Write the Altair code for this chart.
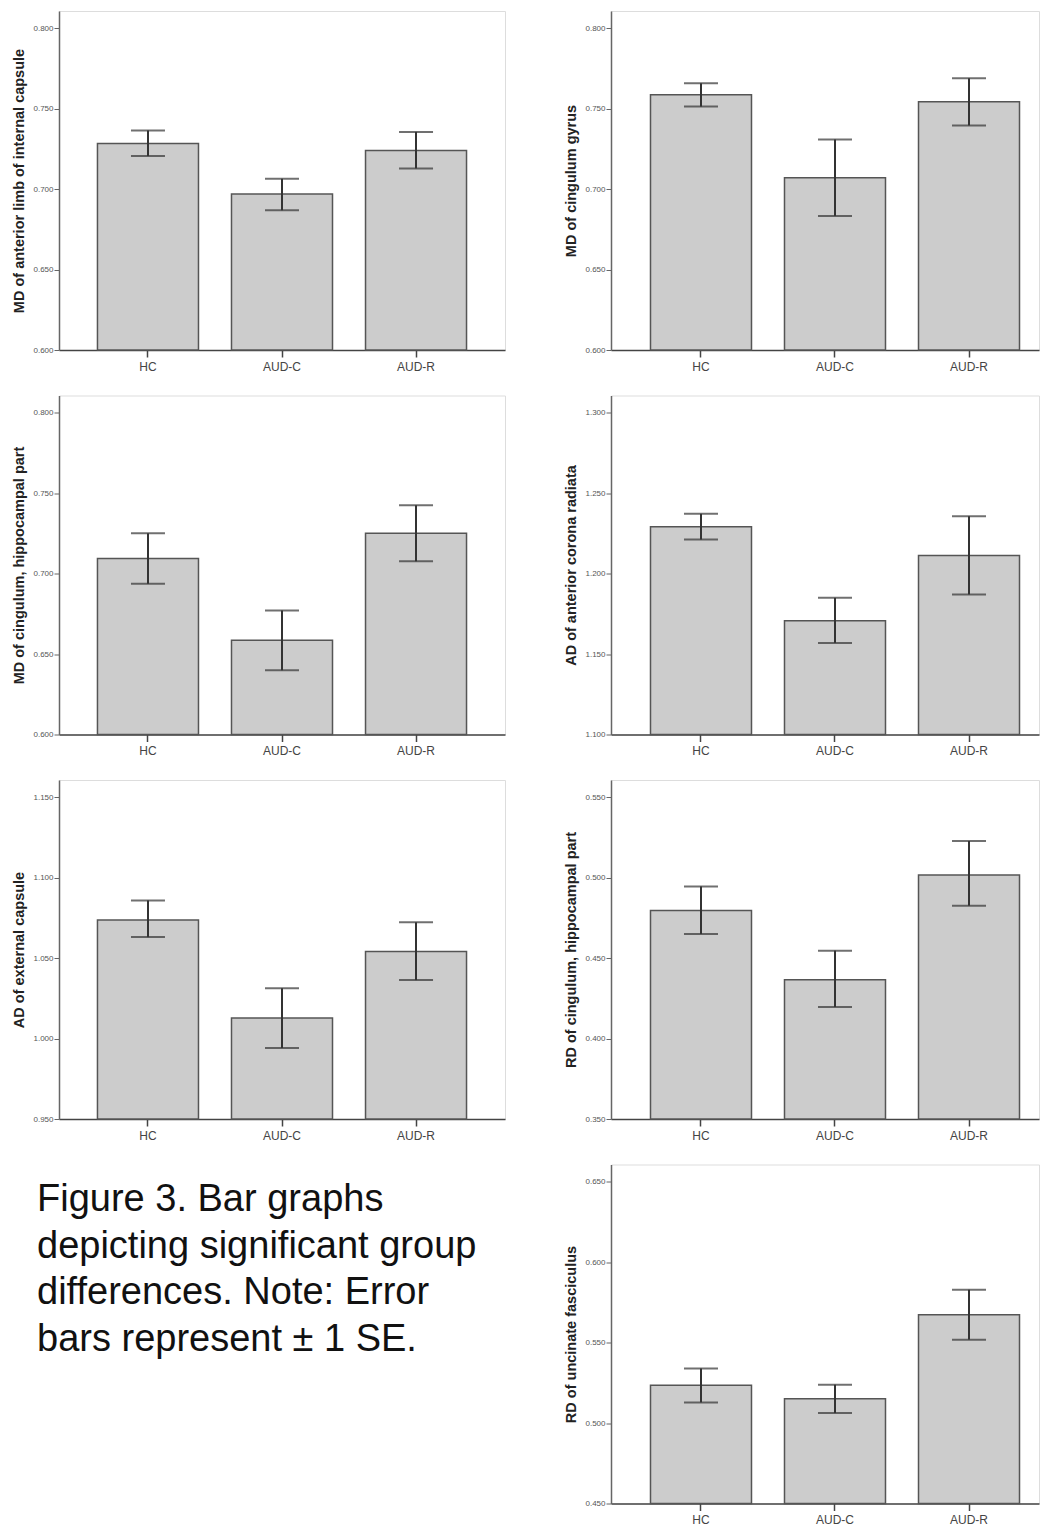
import altair as alt
import pandas as pd

groups = ["HC", "AUD-C", "AUD-R"]

titles = [
    "MD of anterior limb of internal capsule",
    "MD of cingulum gyrus",
    "MD of cingulum, hippocampal part",
    "AD of anterior corona radiata",
    "AD of external capsule",
    "RD of cingulum, hippocampal part",
    "RD of uncinate fasciculus",
]

means = [
    [0.7283, 0.6969, 0.7240],
    [0.7585, 0.7070, 0.7543],
    [0.7093, 0.6585, 0.7250],
    [1.2290, 1.1706, 1.2112],
    [1.0736, 1.0127, 1.0541],
    [0.4796, 0.4365, 0.5016],
    [0.5234, 0.5151, 0.5673],
]
lowers = [
    [0.7205, 0.6868, 0.7128],
    [0.7512, 0.6833, 0.7395],
    [0.6936, 0.6399, 0.7076],
    [1.2211, 1.1569, 1.1870],
    [1.0630, 0.9941, 1.0363],
    [0.4649, 0.4196, 0.4825],
    [0.5128, 0.5062, 0.5518],
]
uppers = [
    [0.7364, 0.7064, 0.7355],
    [0.7657, 0.7308, 0.7688],
    [0.7250, 0.6771, 0.7424],
    [1.2371, 1.1849, 1.2356],
    [1.0858, 1.0313, 1.0722],
    [0.4945, 0.4546, 0.5227],
    [0.5339, 0.5238, 0.5828],
]

axis_min = [0.60, 0.60, 0.60, 1.10, 0.95, 0.35, 0.45]
axis_max = [0.8106, 0.8106, 0.8106, 1.3106, 1.1606, 0.5606, 0.6606]
tick_values = [
    [0.600, 0.650, 0.700, 0.750, 0.800],
    [0.600, 0.650, 0.700, 0.750, 0.800],
    [0.600, 0.650, 0.700, 0.750, 0.800],
    [1.100, 1.150, 1.200, 1.250, 1.300],
    [0.950, 1.000, 1.050, 1.100, 1.150],
    [0.350, 0.400, 0.450, 0.500, 0.550],
    [0.450, 0.500, 0.550, 0.600, 0.650],
]

caption_lines = [
    "Figure 3. Bar graphs",
    "depicting significant group",
    "differences. Note: Error",
    "bars represent \u00b1 1 SE.",
]

FONT = "Liberation Sans, Arial, Helvetica, sans-serif"
H = 339
W_LEFT = 446
W_RIGHT = 428


def panel(i, width, pad_outer, align):
    lo = axis_min[i]
    df = pd.DataFrame({
        "group": groups,
        "mean": means[i],
        "lower": lowers[i],
        "upper": uppers[i],
        "base": [lo] * 3,
    })
    yscale = alt.Scale(domain=[lo, axis_max[i]], nice=False, zero=False)
    xscale = alt.Scale(domain=groups, paddingInner=0.2463,
                       paddingOuter=pad_outer, align=align)
    xaxis = alt.Axis(title=None, labelAngle=0, labelFontSize=12,
                     labelColor="#444", labelPadding=4, tickSize=7,
                     tickColor="#444", tickWidth=1.5, domainColor="#444",
                     domainWidth=1.5, grid=False, labelFont=FONT)
    yaxis = alt.Axis(title=titles[i], values=tick_values[i], format=".3f",
                     labelFontSize=8, labelColor="#555", labelPadding=1,
                     tickSize=5, tickColor="#666", tickWidth=1,
                     domainColor="#666", domainWidth=1.5, grid=False,
                     minExtent=28, maxExtent=28, titlePadding=5,
                     titleFontSize=14.5, titleFontWeight="bold",
                     titleColor="#222", titleFont=FONT, labelFont=FONT)
    base = alt.Chart(df)
    x = alt.X("group:N", sort=groups, scale=xscale, axis=xaxis)
    bars = base.mark_bar(fill="#cccccc", stroke="#555555", strokeWidth=1.5).encode(
        x=x,
        y=alt.Y("mean:Q", scale=yscale, axis=yaxis, title=titles[i]),
        y2="base:Q",
    )
    err = base.mark_rule(color="#333333", strokeWidth=2).encode(
        x=alt.X("group:N", sort=groups),
        y=alt.Y("lower:Q", title=titles[i]),
        y2="upper:Q",
    )
    cap_lo = base.mark_tick(color="#333333", thickness=2, size=34).encode(
        x=alt.X("group:N", sort=groups),
        y=alt.Y("lower:Q", title=titles[i]),
    )
    cap_hi = base.mark_tick(color="#333333", thickness=2, size=34).encode(
        x=alt.X("group:N", sort=groups),
        y=alt.Y("upper:Q", title=titles[i]),
    )
    return alt.layer(bars, err, cap_lo, cap_hi).properties(width=width, height=H)


left = lambda i: panel(i, W_LEFT, 0.287, 0.5)
right = lambda i: panel(i, W_RIGHT, 0.2201, 0.6695)

cap_df = pd.DataFrame({"text": ["\n".join(caption_lines)]})
caption = alt.Chart(cap_df).mark_text(
    align="left", baseline="alphabetic", fontSize=38, lineBreak="\n",
    lineHeight=46.7, color="#111111", font=FONT,
).encode(
    x=alt.value(-22), y=alt.value(46.5), text="text:N"
).properties(width=W_LEFT, height=H,
             view=alt.ViewBackground(stroke="transparent"))

cells = [left(0), right(1), left(2), right(3), left(4), right(5), caption, right(6)]

chart = alt.concat(
    *cells, columns=2, spacing={"row": 45.5, "column": 106}, bounds="flush"
).properties(
    padding={"left": 2, "top": 2, "right": 0, "bottom": 0},
    background="white",
).configure_view(
    stroke="#777777", strokeWidth=1.5
).configure(font=FONT)

chart.save("out.html", embed_options={"renderer": "svg", "actions": False})
